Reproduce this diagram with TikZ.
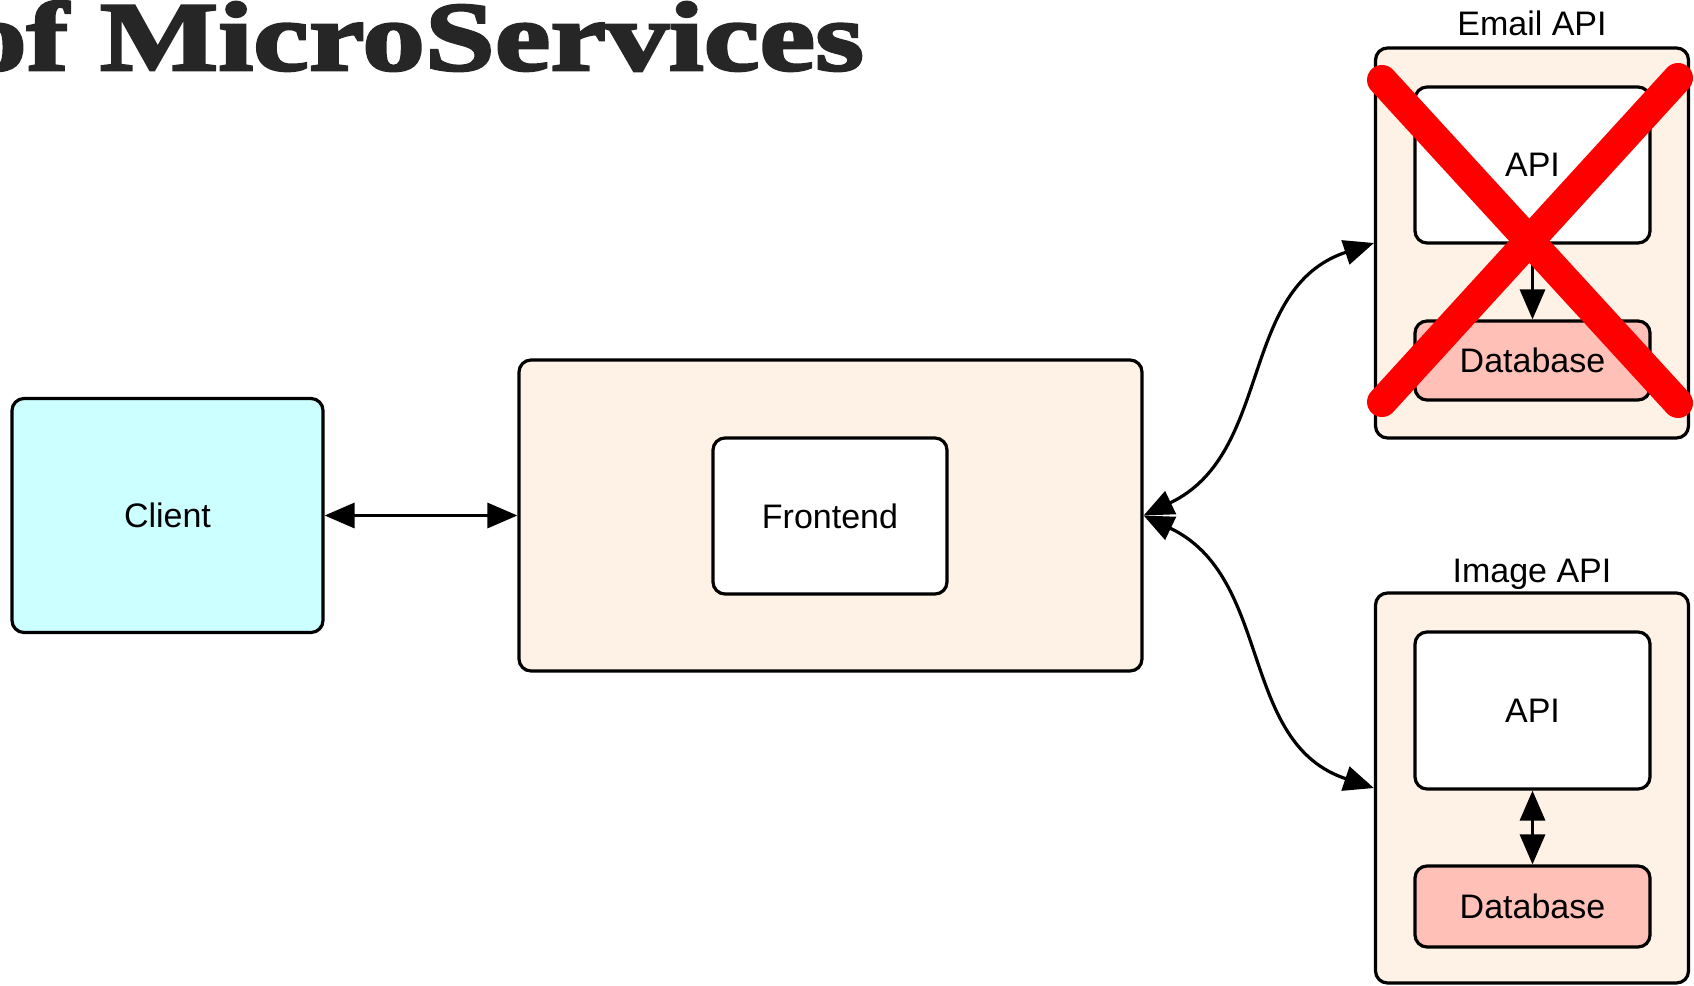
\documentclass[tikz,border=0pt]{standalone}
\usepackage{fontspec}
\setmainfont{Liberation Sans}
\newfontfamily\titlefont{Liberation Serif}[FakeStretch=1.28,FakeBold=3]
\usetikzlibrary{arrows.meta}

\definecolor{clientfill}{RGB}{204,255,255}
\definecolor{svcfill}{RGB}{254,241,229}
\definecolor{dbfill}{RGB}{255,192,184}
\definecolor{titlegray}{RGB}{38,38,38}
\definecolor{crossred}{RGB}{255,0,0}

\tikzset{
  box/.style={draw=black, line width=3.2pt, rounded corners=12pt, inner sep=0pt,
              font=\fontsize{34}{40}\selectfont},
  lbl/.style={inner sep=0pt, font=\fontsize{34}{40}\selectfont},
  tip/.tip={Triangle[length=30pt,width=25pt]},
  twoway/.style={line width=3.2pt, tip-tip},
  oneway/.style={line width=3.2pt, -tip},
  crossline/.style={draw=crossred, line width=30pt, line cap=round},
}

\begin{document}
\begin{tikzpicture}[x=1pt,y=-1pt]
  \useasboundingbox (0,0) rectangle (1694,985);
  \clip (0,0) rectangle (1694,985);

  % heading
  \node[anchor=base east, inner sep=0pt, text=titlegray,
        font=\titlefont\bfseries\fontsize{98}{98}\selectfont] (title) at (864,70) {of MicroServices};

  % client and frontend
  \node[box, fill=clientfill, minimum width=311pt, minimum height=234pt] (client) at (167.5,515.5) {Client};
  \node[box, fill=svcfill, minimum width=623pt, minimum height=311pt] (front) at (830.5,515.5) {};
  \node[box, fill=white, minimum width=234pt, minimum height=156pt] (frontend) at (830,516) {Frontend};

  % email service
  \node[box, fill=svcfill, minimum width=313pt, minimum height=390pt] (email) at (1532,243) {};
  \node[lbl, anchor=base] (emaillbl) at (1532,35) {Email API};
  \node[box, fill=white, minimum width=235pt, minimum height=156pt] (emailapi) at (1532.5,165) {API};
  \node[box, fill=dbfill, minimum width=235pt, minimum height=79pt] (emaildb) at (1532.5,360.5) {Database};

  % image service
  \node[box, fill=svcfill, minimum width=313pt, minimum height=390pt] (image) at (1532,788) {};
  \node[lbl, anchor=base] (imagelbl) at (1532,582) {Image API};
  \node[box, fill=white, minimum width=235pt, minimum height=157pt] (imageapi) at (1532.5,710.5) {API};
  \node[box, fill=dbfill, minimum width=235pt, minimum height=81pt] (imagedb) at (1532.5,906.5) {Database};

  % connectors
  \draw[twoway] (client.east) -- (front.west);
  \draw[twoway] (front.east) .. controls +(130,-62) and +(-136,45) .. (email.west);
  \draw[twoway] (front.east) .. controls +(130,62) and +(-136,-45) .. (image.west);
  \draw[oneway] (emailapi.south) -- (emaildb.north);
  \draw[twoway] (imageapi.south) -- (imagedb.north);

  % the email service is struck out
  \draw[crossline] (1382,80) -- (1678,403);
  \draw[crossline] (1678,78) -- (1382,402);
\end{tikzpicture}
\end{document}
